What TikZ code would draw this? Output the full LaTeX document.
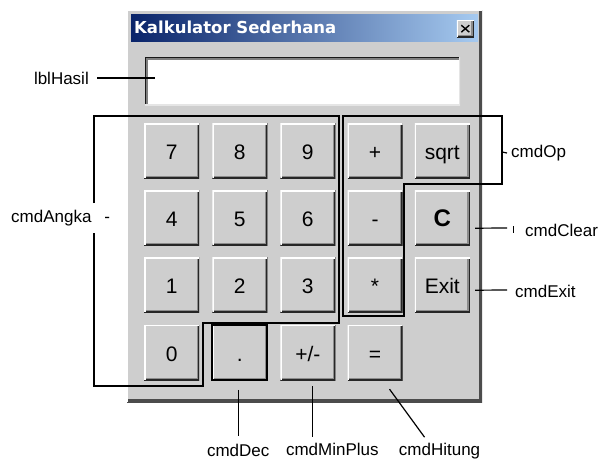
\documentclass[tikz,border=0pt]{standalone}
\usepackage{fontspec}
\setmainfont{Liberation Sans}
\newfontfamily\judulfont{DejaVu Sans}
\usetikzlibrary{matrix, positioning, calc}

\definecolor{winbg}{RGB}{206,206,206}
\definecolor{navy}{RGB}{10,36,106}
\definecolor{langit}{RGB}{166,202,240}

\begin{document}
\begin{tikzpicture}[x=1pt, y=-1pt,
    tombol/.style={fill=winbg, minimum width=55pt, minimum height=55pt, inner sep=0pt,
        text height=17pt, text depth=0pt, font=\fontsize{21}{21}\selectfont,
        path picture={
            \draw[overlay, black!45, line width=5pt] (path picture bounding box.south west) -- (path picture bounding box.south east) -- (path picture bounding box.north east);
            \draw[overlay, black!85, line width=2.2pt] (path picture bounding box.south west) -- (path picture bounding box.south east) -- (path picture bounding box.north east);
            \draw[overlay, white, line width=2.6pt] (path picture bounding box.south west) -- (path picture bounding box.north west) -- (path picture bounding box.north east);
        }},
    fokus/.style={draw=black, line width=1.6pt},
    jendelabox/.style={fill=winbg, inner sep=0pt,
        path picture={
            \draw[overlay, black!70, line width=7pt] (path picture bounding box.south west) -- (path picture bounding box.south east) -- (path picture bounding box.north east);
            \draw[overlay, white, line width=2pt] (path picture bounding box.south west) -- (path picture bounding box.north west) -- (path picture bounding box.north east);
        }},
    layar/.style={fill=white, inner sep=0pt,
        path picture={
            \draw[overlay, black!50, line width=5pt] (path picture bounding box.south west) -- (path picture bounding box.north west) -- (path picture bounding box.north east);
            \draw[overlay, black!90, line width=2.5pt] (path picture bounding box.south west) -- (path picture bounding box.north west) -- (path picture bounding box.north east);
            \draw[overlay, black!10, line width=3pt] (path picture bounding box.south west) -- (path picture bounding box.south east) -- (path picture bounding box.north east);
        }},
    keterangan/.style={font=\fontsize{17}{17}\selectfont, inner sep=0pt},
    garis/.style={draw=black, line width=1.2pt}]

    \useasboundingbox (0,0) rectangle (602,460);

    % jendela kalkulator
    \node[jendelabox, anchor=north west, minimum width=355pt, minimum height=392pt] (jendela) at (127,10) {};
    \node[anchor=north west, minimum width=347pt, minimum height=27pt, inner sep=0pt,
        left color=navy, right color=langit] (judul) at (131,14) {};
    \node[anchor=west, text=white, inner sep=0pt, font=\judulfont\bfseries\fontsize{16.5}{16.5}\selectfont]
        (teksjudul) at ([xshift=3pt]judul.west) {Kalkulator Sederhana};
    \node[tombol, anchor=north east, minimum width=17pt, minimum height=17pt, text height=0pt] (tutup) at (474,20) {};
    \draw[black, line width=1.4pt] ([shift={(-4pt,-3.5pt)}]tutup.center) -- ([shift={(4pt,3.5pt)}]tutup.center);
    \draw[black, line width=1.4pt] ([shift={(-4pt,3.5pt)}]tutup.center) -- ([shift={(4pt,-3.5pt)}]tutup.center);

    % layar hasil
    \node[layar, anchor=north west, minimum width=315pt, minimum height=48pt] (hasil) at (145,57) {};

    % tombol-tombol
    \matrix[matrix of nodes, nodes={tombol, anchor=center}, column sep=12.25pt, row sep=12pt,
        inner sep=0pt, anchor=north west, ampersand replacement=\&] (btn) at (144,123) {
        7 \& 8 \& 9 \& + \& sqrt \\
        4 \& 5 \& 6 \& - \& |[font=\fontsize{24}{24}\selectfont\bfseries]| C \\
        1 \& 2 \& 3 \& * \& Exit \\
        0 \& |[fokus]| . \& +/- \& = \& \\
    };

    % kurung cmdAngka dan cmdOp
    \draw[garis] (94,203) -- (94,116) -- (339,116) -- (339,323) -- (203,323) -- (203,386) -- (94,386) -- (94,233);
    \draw[garis] (343,116) -- (343,316) -- (404,316) -- (404,184) -- (502,184) -- (502,116) -- cycle;
    \coordinate (opKanan) at (502,152);
    \coordinate (ujungClear) at (507,228);
    \coordinate (ujungExit) at (507,290);

    % keterangan
    \node[keterangan, anchor=east] (lHasil) at (89,78) {lblHasil};
    \node[keterangan, anchor=west] (lAngka) at (11,218) {cmdAngka\hspace{13pt}-};
    \node[keterangan, anchor=west] (lOp) at (511,153) {cmdOp};
    \node[keterangan, anchor=west] (lClear) at (525,230) {cmdClear};
    \node[keterangan, anchor=west] (lExit) at (515,291) {cmdExit};
    \node[keterangan, below=63pt of btn-4-2, xshift=-1.5pt] (lDec) {cmdDec};
    \node[keterangan, below=63pt of btn-4-3, xshift=24.5pt] (lMin) {cmdMinPlus};
    \node[keterangan, below=63pt of btn-4-4, xshift=64.5pt] (lHit) {cmdHitung};

    \draw[garis, shorten <=8pt] (lHasil.east) -- ($(lHasil.east -| hasil.west)+(10pt,0pt)$);
    \draw[garis] (opKanan) -- ($(lOp.west)+(-4pt,0pt)$);
    \draw[garis] ([shift={(5pt,-10.5pt)}]btn-2-5.east) -- (ujungClear);
    \draw[garis, line width=0.8pt] ($(lClear.west)+(-12pt,4pt)$) -- ($(lClear.west)+(-12pt,-3pt)$);
    \draw[garis] ([shift={(5pt,-5.5pt)}]btn-3-5.east) -- (ujungExit);
    \draw[garis, shorten <=9pt, shorten >=8pt] ([xshift=-1.5pt]btn-4-2.south) -- ([xshift=-1.5pt]btn-4-2.south |- lDec.north);
    \draw[garis, shorten <=6pt, shorten >=6pt] ([xshift=4.5pt]btn-4-3.south) -- ([xshift=4.5pt]btn-4-3.south |- lMin.north);
    \draw[garis] ([shift={(14.5pt,-9pt)}]btn-4-4.south) -- ([shift={(-15pt,6pt)}]lHit.north);
\end{tikzpicture}
\end{document}
